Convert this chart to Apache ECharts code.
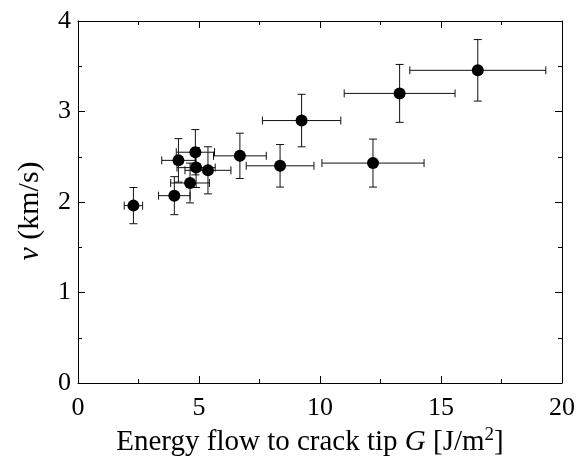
<!DOCTYPE html>
<html>
<head>
<meta charset="utf-8">
<script src="https://cdn.jsdelivr.net/npm/echarts@6/dist/echarts.min.js"></script>
<style>html,body{margin:0;padding:0;background:#fff}#c{width:582px;height:468px}</style>
</head>
<body>
<div id="c"></div>
<script>
// Energy flow G [J/m^2], velocity v [km/s], and error bars
const G    = [2.29, 3.98, 4.63, 4.15, 4.85, 4.88, 5.37, 6.69, 8.35, 9.24, 12.19, 13.29, 16.52];
const V    = [1.96, 2.07, 2.21, 2.46, 2.55, 2.38, 2.35, 2.51, 2.40, 2.90, 2.43, 3.20, 3.455];
const Gerr = [0.38, 0.65, 0.80, 0.69, 0.79, 0.79, 0.95, 1.09, 1.40, 1.62, 2.11, 2.29, 2.81];
const Verr = [0.20, 0.21, 0.22, 0.24, 0.25, 0.22, 0.26, 0.25, 0.235, 0.29, 0.265, 0.32, 0.34];
const xTicks = [0, 5, 10, 15, 20];
const yTicks = [0, 1, 2, 3, 4];

const FONT = '"Liberation Serif", "DejaVu Serif", serif';
const FS = 26;
const pts = G.map((g, i) => [g, V[i]]);
const errData = G.map((g, i) => [g, V[i], Gerr[i], Verr[i]]);

const chart = echarts.init(document.getElementById('c'), null, {renderer: 'canvas'});
const axisCommon = {
  type: 'value',
  axisLine: {show: true, onZero: false, lineStyle: {color: '#000', width: 1}},
  axisTick: {show: true, inside: true, length: 7, lineStyle: {color: '#000'}},
  minorTick: {show: true, splitNumber: 2, length: 4, lineStyle: {color: '#000'}},
  splitLine: {show: false},
  axisLabel: {color: '#000', fontFamily: FONT, fontSize: FS},
};
chart.setOption({
  animation: false,
  grid: {left: 78, right: 20, top: 21, bottom: 85},
  xAxis: [
    Object.assign({}, axisCommon, {
      min: xTicks[0], max: xTicks[xTicks.length - 1], interval: 5,
      axisLabel: Object.assign({}, axisCommon.axisLabel, {margin: 12}),
      name: 'Energy flow to crack tip {i|G} [J/m{sup|2}]',
      nameLocation: 'middle', nameGap: 40,
      nameTextStyle: {
        color: '#000', fontFamily: FONT, fontSize: 29, padding: [0, 20, 0, 0],
        rich: {
          i: {fontFamily: FONT, fontSize: 29, fontStyle: 'italic', color: '#000'},
          sup: {fontFamily: FONT, fontSize: 19, color: '#000', verticalAlign: 'top', padding: [0, 0, 13, 0]}
        }
      }
    }),
    Object.assign({}, axisCommon, {
      position: 'top', min: 0, max: 20, interval: 5,
      axisLabel: {show: false}
    })
  ],
  yAxis: [
    Object.assign({}, axisCommon, {
      min: yTicks[0], max: yTicks[yTicks.length - 1], interval: 1,
      axisLabel: Object.assign({}, axisCommon.axisLabel, {margin: 7}),
      name: '{i|v} (km/s)',
      nameLocation: 'middle', nameGap: 33, nameRotate: 90,
      nameTextStyle: {
        color: '#000', fontFamily: FONT, fontSize: 30, padding: [0, 18, 0, 0],
        rich: {
          i: {fontFamily: FONT, fontSize: 30, fontStyle: 'italic', color: '#000'}
        }
      }
    }),
    Object.assign({}, axisCommon, {
      position: 'right', min: 0, max: 4, interval: 1,
      axisLabel: {show: false}
    })
  ],
  series: [
    {
      type: 'custom',
      data: errData,
      z: 2,
      renderItem: function (params, api) {
        const x = api.value(0), y = api.value(1), ex = api.value(2), ey = api.value(3);
        const c = api.coord([x, y]);
        const l = api.coord([x - ex, y]), r = api.coord([x + ex, y]);
        const t = api.coord([x, y + ey]), b = api.coord([x, y - ey]);
        const cap = 4;
        const st = {stroke: '#111', lineWidth: 1, fill: null};
        return {
          type: 'group',
          children: [
            {type: 'line', shape: {x1: l[0], y1: c[1], x2: r[0], y2: c[1]}, style: st},
            {type: 'line', shape: {x1: l[0], y1: c[1] - cap, x2: l[0], y2: c[1] + cap}, style: st},
            {type: 'line', shape: {x1: r[0], y1: c[1] - cap, x2: r[0], y2: c[1] + cap}, style: st},
            {type: 'line', shape: {x1: c[0], y1: t[1], x2: c[0], y2: b[1]}, style: st},
            {type: 'line', shape: {x1: c[0] - cap, y1: t[1], x2: c[0] + cap, y2: t[1]}, style: st},
            {type: 'line', shape: {x1: c[0] - cap, y1: b[1], x2: c[0] + cap, y2: b[1]}, style: st}
          ]
        };
      }
    },
    {
      type: 'scatter',
      data: pts,
      z: 3,
      symbol: 'circle',
      symbolSize: 12,
      itemStyle: {color: '#000', opacity: 1}
    }
  ]
});
</script>
</body>
</html>
